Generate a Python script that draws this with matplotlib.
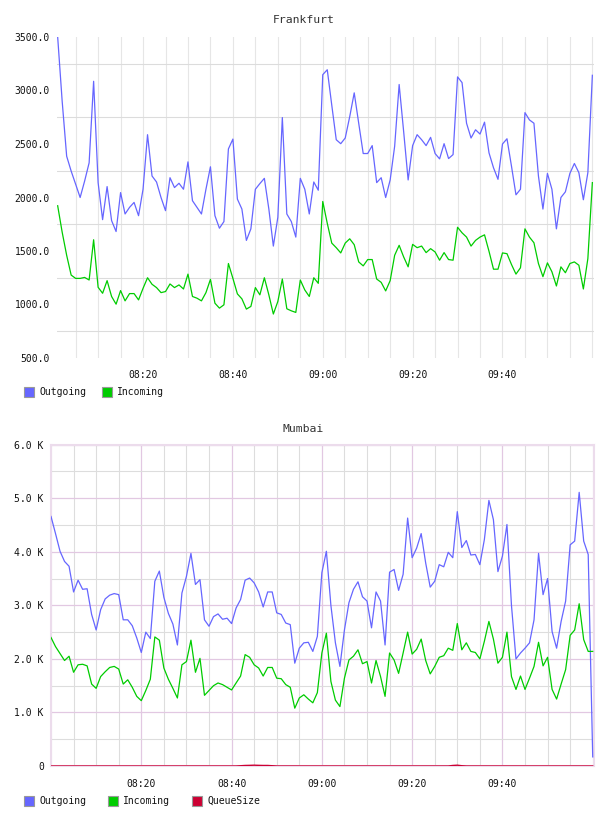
import pandas as pd
import numpy as np
import matplotlib
matplotlib.use('Agg')
import matplotlib.pyplot as plt
import matplotlib.dates as mdates
import matplotlib.ticker as mticker
from matplotlib.patches import Rectangle

# Frankfurt, one point per minute from 08:01
out_fra = [3500, 2900, 2386, 2247, 2124, 2000, 2154, 2324, 3086, 2139,
           1793, 2102, 1784, 1682, 2046, 1846, 1908, 1954, 1830, 2077,
           2587, 2201, 2145, 2000, 1877, 2185, 2093, 2133, 2077, 2333,
           1970, 1908, 1846, 2077, 2287, 1830, 1713, 1775, 2454, 2546,
           1985, 1892, 1599, 1707, 2077, 2130, 2179, 1892, 1546, 1815,
           2747, 1846, 1775, 1630, 2179, 2077, 1846, 2145, 2068, 3148,
           3194, 2864, 2540, 2503, 2556, 2756, 2978, 2694, 2411, 2411,
           2485, 2139, 2185, 2000, 2164, 2479, 3056, 2617, 2164, 2485,
           2587, 2540, 2485, 2562, 2411, 2361, 2503, 2364, 2401, 3127,
           3074, 2694, 2556, 2633, 2593, 2704, 2417, 2278, 2170, 2500,
           2549, 2293, 2025, 2077, 2793, 2725, 2694, 2201, 1892, 2225,
           2077, 1707, 2000, 2053, 2225, 2318, 2232, 1979, 2232, 3142]
in_fra = [1923, 1676, 1460, 1275, 1244, 1244, 1253, 1229, 1605, 1161,
          1105, 1223, 1075, 1003, 1130, 1034, 1102, 1102, 1043, 1151,
          1250, 1189, 1158, 1111, 1121, 1192, 1158, 1183, 1145, 1284,
          1075, 1059, 1034, 1111, 1235, 1012, 966, 997, 1383, 1244,
          1099, 1053, 957, 982, 1158, 1090, 1250, 1090, 911, 1028,
          1238, 960, 941, 926, 1229, 1136, 1075, 1250, 1198, 1963,
          1759, 1574, 1531, 1482, 1574, 1614, 1559, 1398, 1361, 1420,
          1420, 1238, 1207, 1127, 1223, 1460, 1553, 1445, 1352, 1562,
          1531, 1546, 1485, 1522, 1491, 1414, 1485, 1420, 1414, 1722,
          1670, 1630, 1546, 1599, 1630, 1651, 1497, 1330, 1330, 1482,
          1475, 1374, 1284, 1343, 1707, 1630, 1577, 1383, 1260, 1389,
          1306, 1173, 1352, 1297, 1383, 1398, 1367, 1145, 1429, 2139]

# Mumbai (in K), one point per minute from 08:00
out_mum = [4.66, 4.34, 4.01, 3.82, 3.73, 3.25, 3.47, 3.30, 3.31, 2.83,
           2.54, 2.92, 3.12, 3.19, 3.22, 3.20, 2.73, 2.73, 2.62, 2.39,
           2.12, 2.50, 2.38, 3.45, 3.64, 3.15, 2.85, 2.65, 2.26, 3.23,
           3.54, 3.97, 3.39, 3.48, 2.73, 2.61, 2.79, 2.84, 2.74, 2.76,
           2.66, 2.95, 3.11, 3.47, 3.51, 3.42, 3.25, 2.97, 3.25, 3.25,
           2.86, 2.83, 2.67, 2.64, 1.92, 2.20, 2.30, 2.31, 2.14, 2.42,
           3.61, 4.01, 3.00, 2.30, 1.86, 2.54, 3.05, 3.30, 3.44, 3.16,
           3.08, 2.58, 3.25, 3.08, 2.26, 3.62, 3.67, 3.28, 3.58, 4.63,
           3.89, 4.07, 4.34, 3.79, 3.34, 3.45, 3.76, 3.72, 3.99, 3.89,
           4.75, 4.08, 4.21, 3.94, 3.95, 3.76, 4.23, 4.96, 4.60, 3.63,
           3.92, 4.51, 3.00, 2.00, 2.11, 2.20, 2.30, 2.73, 3.97, 3.20,
           3.50, 2.51, 2.20, 2.70, 3.08, 4.13, 4.20, 5.11, 4.20, 3.95,
           0.17]
in_mum = [2.40, 2.23, 2.10, 1.97, 2.05, 1.75, 1.89, 1.90, 1.87, 1.53,
          1.45, 1.67, 1.76, 1.84, 1.86, 1.81, 1.53, 1.61, 1.47, 1.30,
          1.22, 1.41, 1.62, 2.41, 2.35, 1.83, 1.62, 1.45, 1.27, 1.89,
          1.95, 2.35, 1.75, 2.01, 1.32, 1.41, 1.50, 1.55, 1.52, 1.47,
          1.42, 1.55, 1.68, 2.08, 2.03, 1.89, 1.83, 1.68, 1.84, 1.84,
          1.64, 1.63, 1.52, 1.47, 1.08, 1.27, 1.33, 1.25, 1.18, 1.37,
          2.11, 2.48, 1.58, 1.23, 1.11, 1.64, 1.98, 2.05, 2.17, 1.91,
          1.95, 1.55, 1.97, 1.67, 1.30, 2.11, 1.98, 1.73, 2.11, 2.50,
          2.09, 2.18, 2.37, 1.97, 1.72, 1.86, 2.03, 2.06, 2.20, 2.16,
          2.66, 2.17, 2.30, 2.14, 2.12, 2.00, 2.33, 2.70, 2.37, 1.92,
          2.03, 2.50, 1.67, 1.43, 1.68, 1.43, 1.64, 1.86, 2.31, 1.87,
          2.03, 1.43, 1.25, 1.53, 1.80, 2.44, 2.54, 3.03, 2.36, 2.14,
          2.14]
queue_mum = [0, 0, 0, 0, 0, 0, 0, 0, 0, 0,
             0, 0, 0, 0, 0, 0, 0, 0, 0, 0,
             0, 0, 0, 0, 0, 0, 0, 0, 0, 0,
             0, 0, 0, 0, 0, 0, 0, 0, 0, 0,
             0, 0, 0.005, 0.01, 0.012, 0.015, 0.012, 0.01, 0.01, 0.005,
             0, 0, 0, 0, 0, 0, 0, 0, 0, 0,
             0, 0, 0, 0, 0, 0, 0, 0, 0, 0,
             0, 0, 0, 0, 0, 0, 0, 0, 0, 0,
             0, 0, 0, 0, 0, 0, 0, 0, 0, 0.01,
             0.015, 0.005, 0, 0, 0, 0, 0, 0, 0, 0,
             0, 0, 0, 0, 0, 0, 0, 0, 0, 0,
             0, 0, 0, 0, 0, 0, 0, 0, 0, 0,
             0]

t_fra = pd.date_range('2024-01-01 08:01', periods=len(out_fra), freq='min')
t_mum = pd.date_range('2024-01-01 08:00', periods=len(out_mum), freq='min')
label_times = pd.to_datetime(['2024-01-01 08:20', '2024-01-01 08:40', '2024-01-01 09:00',
                              '2024-01-01 09:20', '2024-01-01 09:40'])

C_OUT = '#6666ff'
C_IN = '#00cc00'
C_Q = '#cc0033'
FONT = 'DejaVu Sans Mono'
W, H = 608, 816

fig = plt.figure(figsize=(W / 100, H / 100), dpi=100)


def box(x0, y0, x1, y1):
    return [x0 / W, 1 - y1 / H, (x1 - x0) / W, (y1 - y0) / H]


def legend(y, items):
    for x, color, name in items:
        fig.add_artist(Rectangle((x / W, 1 - (y + 10) / H), 10 / W, 10 / H,
                                 transform=fig.transFigure, fc=color, ec='#999999', lw=0.8))
        fig.text((x + 15) / W, 1 - (y + 5.5) / H, name, family=FONT, fontsize=7,
                 va='center', ha='left', color='#111111')


def style_time_axis(ax):
    ax.xaxis.set_major_locator(mticker.FixedLocator(mdates.date2num(label_times)))
    ax.xaxis.set_major_formatter(mdates.DateFormatter('%H:%M'))
    ax.xaxis.set_minor_locator(mdates.MinuteLocator(byminute=range(0, 60, 5)))
    for lab in ax.get_xticklabels() + ax.get_yticklabels():
        lab.set_family(FONT)
        lab.set_fontsize(7)
        lab.set_color('#111111')


# ---- Frankfurt
ax1 = fig.add_axes(box(57, 37, 593.7, 358))
ax1.plot(t_fra, out_fra, color=C_OUT, lw=0.9, zorder=3)
ax1.plot(t_fra, in_fra, color=C_IN, lw=0.9, zorder=3)
ax1.set_xlim(pd.Timestamp('2024-01-01 08:00:51'), pd.Timestamp('2024-01-01 10:00:18'))
ax1.set_ylim(500, 3500)
ax1.yaxis.set_major_locator(mticker.MultipleLocator(500))
ax1.yaxis.set_major_formatter(mticker.FormatStrFormatter('%.1f'))
ax1.yaxis.set_minor_locator(mticker.FixedLocator([750, 1250, 1750, 2250, 2750, 3250]))
style_time_axis(ax1)
ax1.grid(True, which='minor', axis='y', color='#dcdcdc', lw=0.8)
ax1.grid(True, which='both', axis='x', color='#e6e6e6', lw=0.8)
ax1.set_axisbelow(True)
ax1.tick_params(which='both', length=0)
ax1.tick_params(axis='x', pad=9)
ax1.tick_params(axis='y', pad=5)
for s in ax1.spines.values():
    s.set_visible(False)
fig.text(304 / W, 1 - 20 / H, 'Frankfurt', family=FONT, fontsize=8.2,
         ha='center', va='center', color='#333333')
legend(387, [(24, C_OUT, 'Outgoing'), (102, C_IN, 'Incoming')])

# ---- Mumbai
ax2 = fig.add_axes(box(50.7, 444.7, 593.7, 766))
ax2.plot(t_mum, out_mum, color=C_OUT, lw=0.9, zorder=3)
ax2.plot(t_mum, in_mum, color=C_IN, lw=0.9, zorder=3)
ax2.plot(t_mum, queue_mum, color=C_Q, lw=1.0, zorder=4)
ax2.set_xlim(pd.Timestamp('2024-01-01 07:59:56'), pd.Timestamp('2024-01-01 10:00:13'))
ax2.set_ylim(0, 6)
ax2.yaxis.set_major_locator(mticker.MultipleLocator(1))
ax2.yaxis.set_major_formatter(mticker.FuncFormatter(lambda v, p: '0' if v == 0 else '%.1f K' % v))
ax2.yaxis.set_minor_locator(mticker.MultipleLocator(0.5))
style_time_axis(ax2)
ax2.grid(True, which='minor', color='#dddddd', lw=0.8)
ax2.grid(True, which='major', color='#e2c8e2', lw=0.9)
ax2.set_axisbelow(True)
ax2.tick_params(which='both', length=0)
ax2.tick_params(axis='x', pad=9.5)
ax2.tick_params(axis='y', pad=5)
for s in ax2.spines.values():
    s.set_color('#ecdcec')
    s.set_linewidth(1.5)
fig.text(303 / W, 1 - 429 / H, 'Mumbai', family=FONT, fontsize=8.2,
         ha='center', va='center', color='#333333')
legend(795.7, [(24, C_OUT, 'Outgoing'), (108, C_IN, 'Incoming'), (192, C_Q, 'QueueSize')])

fig.savefig('out.png', dpi=100)
